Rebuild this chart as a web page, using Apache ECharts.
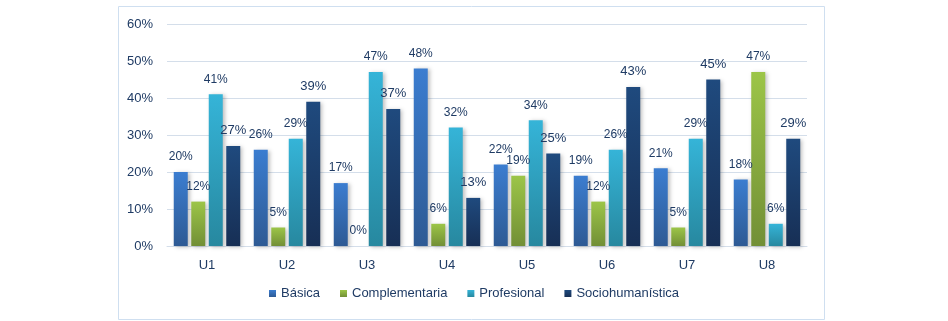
<!DOCTYPE html>
<html><head><meta charset="utf-8">
<script src="https://cdn.jsdelivr.net/npm/echarts@6/dist/echarts.min.js"></script>
<style>html,body{margin:0;padding:0;background:#fff}#c{width:948px;height:321px}</style>
</head><body><div id="c"></div>
<script>
const categories = ['U1','U2','U3','U4','U5','U6','U7','U8'];
const basica = [20,26,17,48,22,19,21,18];
const complementaria = [12,5,0,6,19,12,5,47];
const profesional = [41,29,47,32,34,26,29,6];
const sociohumanistica = [27,39,37,13,25,43,45,29];
const yTicks = [0,10,20,30,40,50,60];

const font = 'Liberation Sans';
const labelColor = '#1f3b64';
function grad(top, bottom){
  return new echarts.graphic.LinearGradient(0,0,0,1,[{offset:0,color:top},{offset:1,color:bottom}]);
}
function mk(name, data, top, bottom, fs){
  return {
    name, type:'bar', data, barWidth:14, barGap:'25%',
    itemStyle:{color:grad(top,bottom), shadowColor:'rgba(0,0,0,0.25)', shadowBlur:4, shadowOffsetX:2, shadowOffsetY:1},
    label:{show:true, position:'top', distance:9, formatter:'{c}%', color:labelColor, fontFamily:font, fontSize:fs},
    emphasis:{disabled:true}
  };
}
const chart = echarts.init(document.getElementById('c'), null, {renderer:'canvas'});
chart.setOption({
  animation:false,
  graphic:[{type:'rect', shape:{x:118.5,y:6.5,width:706,height:313}, style:{fill:'none', stroke:'#cfdff0', lineWidth:1}, silent:true}],
  grid:{left:167, right:141, top:24, bottom:75},
  legend:{
    data:['Básica','Complementaria','Profesional','Sociohumanística'],
    bottom:16, left:'center', itemWidth:7, itemHeight:7, itemGap:20, icon:'rect',
    textStyle:{fontFamily:font, fontSize:13, color:labelColor}
  },
  xAxis:{type:'category', data:categories,
    axisLine:{lineStyle:{color:'#d4deea'}}, axisTick:{show:false},
    axisLabel:{fontFamily:font, fontSize:13, color:labelColor, margin:13}},
  yAxis:{type:'value', min:0, max:60, interval:10,
    axisLine:{show:false}, axisTick:{show:false},
    splitLine:{lineStyle:{color:'#d4deea'}},
    axisLabel:{fontFamily:font, fontSize:13, color:labelColor, margin:14,
      formatter:v => yTicks.includes(v) ? v + '%' : ''}},
  series:[
    mk('Básica', basica, '#3b7dd0', '#2e5a94', 12),
    mk('Complementaria', complementaria, '#9cc548', '#728f36', 12),
    mk('Profesional', profesional, '#35b4d8', '#27889f', 12),
    mk('Sociohumanística', sociohumanistica, '#1f4a7e', '#172f55', 13)
  ]
});
</script></body></html>
